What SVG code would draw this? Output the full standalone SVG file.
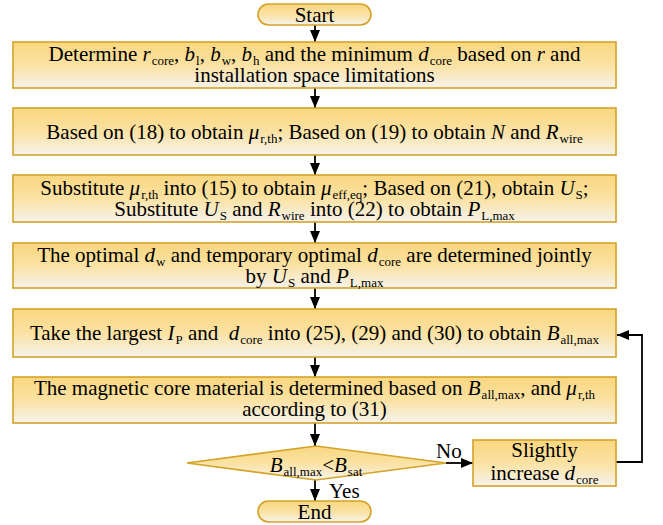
<svg xmlns="http://www.w3.org/2000/svg" width="663" height="525" viewBox="0 0 663 525">
<defs>
<linearGradient id="g" x1="0" y1="0" x2="0" y2="1">
<stop offset="0" stop-color="#f9d780"/>
<stop offset="0.5" stop-color="#fbe2a3"/>
<stop offset="1" stop-color="#f6f3ec"/>
</linearGradient>
<marker id="ah" viewBox="0 0 12 10" refX="12" refY="5" markerWidth="12" markerHeight="10" markerUnits="userSpaceOnUse" orient="auto">
<path d="M0,0 L12,5 L0,10 z" fill="#000"/>
</marker>
</defs>
<style>
.box{fill:url(#g);stroke:#d4a328;stroke-width:1.6}
.t{font-family:'Liberation Serif','Times New Roman',serif;font-size:21px;fill:#000;text-anchor:middle}
.l{font-family:'Liberation Serif','Times New Roman',serif;font-size:21px;fill:#000;text-anchor:start}
.s{font-size:13px}
.i{font-style:italic}
.c{fill:none;stroke:#000;stroke-width:1.8;marker-end:url(#ah)}
</style>
<g id="connectors">
<line class="c" x1="315" y1="25" x2="315" y2="42"/>
<line class="c" x1="315" y1="88" x2="315" y2="108"/>
<line class="c" x1="315" y1="155" x2="315" y2="175"/>
<line class="c" x1="315" y1="222" x2="315" y2="243"/>
<line class="c" x1="315" y1="288" x2="315" y2="309"/>
<line class="c" x1="315" y1="357" x2="315" y2="377"/>
<line class="c" x1="315" y1="423" x2="315" y2="446"/>
<line class="c" x1="315" y1="480" x2="315" y2="501"/>
<line class="c" x1="446" y1="463" x2="473" y2="463"/>
<polyline class="c" points="616,462 642,462 642,335 617,335"/>
<text class="l" x="436" y="458">No</text>
<text class="l" x="329" y="498">Yes</text>
</g>
<g id="start">
<rect class="box" x="258" y="4" width="113" height="21" rx="10.5"/>
<text class="t" x="314.5" y="22">Start</text>
</g>
<g id="step1">
<rect class="box" x="13" y="42" width="603" height="46"/>
<text class="t" x="314.5" y="60.5">Determine <tspan class="i">r</tspan><tspan class="s" dx="1" dy="4">core</tspan><tspan dy="-4">, </tspan><tspan class="i">b</tspan><tspan class="s" dx="1" dy="4">l</tspan><tspan dy="-4">, </tspan><tspan class="i">b</tspan><tspan class="s" dx="1" dy="4">w</tspan><tspan dy="-4">, </tspan><tspan class="i">b</tspan><tspan class="s" dx="1" dy="4">h</tspan><tspan dy="-4"> and the minimum </tspan><tspan class="i">d</tspan><tspan class="s" dx="1" dy="4">core</tspan><tspan dy="-4"> based on </tspan><tspan class="i">r</tspan> and</text>
<text class="t" x="314.5" y="81.5">installation space limitations</text>
</g>
<g id="step2">
<rect class="box" x="13" y="108" width="603" height="47"/>
<text class="t" x="314.5" y="138.5">Based on (18) to obtain <tspan class="i">μ</tspan><tspan class="s" dx="1" dy="4">r,th</tspan><tspan dy="-4">; Based on (19) to obtain </tspan><tspan class="i">N</tspan> and <tspan class="i">R</tspan><tspan class="s" dx="1" dy="4">wire</tspan></text>
</g>
<g id="step3">
<rect class="box" x="13" y="175" width="603" height="47"/>
<text class="t" x="314.5" y="195">Substitute <tspan class="i">μ</tspan><tspan class="s" dx="1" dy="4">r,th</tspan><tspan dy="-4"> into (15) to obtain </tspan><tspan class="i">μ</tspan><tspan class="s" dx="1" dy="4">eff,eq</tspan><tspan dy="-4">; Based on (21), obtain </tspan><tspan class="i">U</tspan><tspan class="s" dx="1" dy="4">S</tspan><tspan dy="-4">;</tspan></text>
<text class="t" x="314.5" y="216">Substitute <tspan class="i">U</tspan><tspan class="s" dx="1" dy="4">S</tspan><tspan dy="-4"> and </tspan><tspan class="i">R</tspan><tspan class="s" dx="1" dy="4">wire</tspan><tspan dy="-4"> into (22) to obtain </tspan><tspan class="i">P</tspan><tspan class="s" dx="1" dy="4">L,max</tspan></text>
</g>
<g id="step4">
<rect class="box" x="13" y="243" width="603" height="45"/>
<text class="t" x="314.5" y="262">The optimal <tspan class="i">d</tspan><tspan class="s" dx="1" dy="4">w</tspan><tspan dy="-4"> and temporary optimal </tspan><tspan class="i">d</tspan><tspan class="s" dx="1" dy="4">core</tspan><tspan dy="-4"> are determined jointly</tspan></text>
<text class="t" x="314.5" y="283">by <tspan class="i">U</tspan><tspan class="s" dx="1" dy="4">S</tspan><tspan dy="-4"> and </tspan><tspan class="i">P</tspan><tspan class="s" dx="1" dy="4">L,max</tspan></text>
</g>
<g id="step5">
<rect class="box" x="13" y="309" width="603" height="48"/>
<text class="t" x="314.5" y="339.5">Take the largest <tspan class="i">I</tspan><tspan class="s" dx="1" dy="4">P</tspan><tspan dy="-4"> and&#160; </tspan><tspan class="i">d</tspan><tspan class="s" dx="1" dy="4">core</tspan><tspan dy="-4"> into (25), (29) and (30) to obtain </tspan><tspan class="i">B</tspan><tspan class="s" dx="1" dy="4">all,max</tspan></text>
</g>
<g id="step6">
<rect class="box" x="13" y="377" width="603" height="46"/>
<text class="t" x="314.5" y="395">The magnetic core material is determined based on <tspan class="i">B</tspan><tspan class="s" dx="1" dy="4">all,max</tspan><tspan dy="-4">, and </tspan><tspan class="i">μ</tspan><tspan class="s" dx="1" dy="4">r,th</tspan></text>
<text class="t" x="314.5" y="416">according to (31)</text>
</g>
<g id="decision">
<polygon class="box" points="316,446 446,463 316,480 187,463"/>
<text class="t" x="316" y="472"><tspan class="i">B</tspan><tspan class="s" dx="1" dy="4">all,max</tspan><tspan dy="-4">&lt;</tspan><tspan class="i">B</tspan><tspan class="s" dx="1" dy="4">sat</tspan></text>
</g>
<g id="increase">
<rect class="box" x="473" y="440" width="143" height="46"/>
<text class="t" x="544.5" y="457">Slightly</text>
<text class="t" x="544.5" y="480">increase <tspan class="i">d</tspan><tspan class="s" dx="1" dy="4">core</tspan></text>
</g>
<g id="end">
<rect class="box" x="258" y="501" width="113" height="21" rx="10.5"/>
<text class="t" x="314.5" y="518.5">End</text>
</g>
</svg>
